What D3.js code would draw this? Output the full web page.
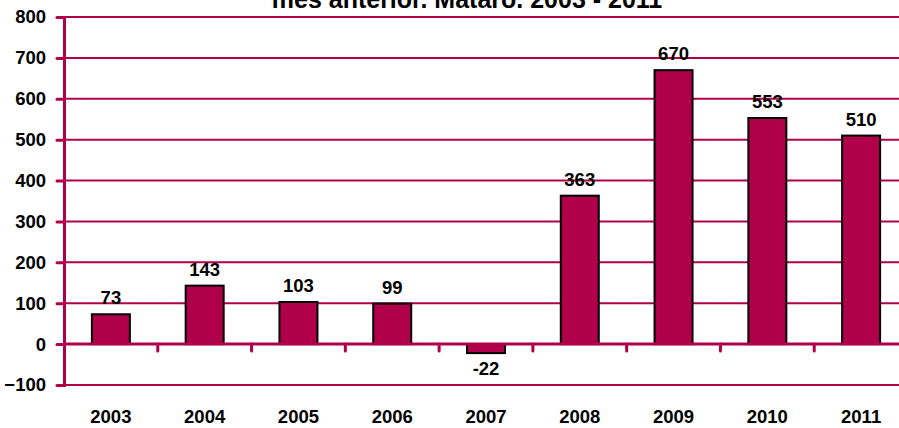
<!DOCTYPE html>
<html>
<head>
<meta charset="utf-8">
<script src="https://cdn.jsdelivr.net/npm/d3@7/dist/d3.min.js"></script>
<style>
  html, body { margin: 0; padding: 0; background: #fff; }
  svg { display: block; }
  text { font-family: Arial, "Liberation Sans", sans-serif; font-weight: bold; fill: #000; }
</style>
</head>
<body>
<svg id="chart" width="899" height="428"></svg>
<script>
const categories = ["2003", "2004", "2005", "2006", "2007", "2008", "2009", "2010", "2011"];
const values = [73, 143, 103, 99, -22, 363, 670, 553, 510];
const yTicks = [-100, 0, 100, 200, 300, 400, 500, 600, 700, 800];
const titleText = "mes anterior. Mataró. 2003 - 2011";

(function () {
const pLeft = 64, pRight = 908, pTop = 17, pBottom = 385;
const color = "#b0004a";
const fs = 18.5;

const svg = d3.select("#chart");

const x = d3.scaleBand().domain(categories).range([pLeft, pRight]).padding(0);
const y = d3.scaleLinear().domain([-100, 800]).range([pBottom, pTop]);
const barW = x.bandwidth() * 0.405;

// gridlines
svg.append("g").selectAll("line").data(yTicks).join("line")
  .attr("x1", pLeft).attr("x2", pRight)
  .attr("y1", d => y(d)).attr("y2", d => y(d))
  .attr("stroke", color).attr("stroke-width", 2);

// bars
svg.append("g").selectAll("rect").data(values).join("rect")
  .attr("x", (d, i) => x(categories[i]) + (x.bandwidth() - barW) / 2)
  .attr("y", d => y(Math.max(0, d)))
  .attr("width", barW)
  .attr("height", d => Math.abs(y(d) - y(0)))
  .attr("fill", color)
  .attr("stroke", "#000").attr("stroke-width", 2);

// zero line on top
svg.append("line")
  .attr("x1", pLeft).attr("x2", pRight)
  .attr("y1", y(0)).attr("y2", y(0))
  .attr("stroke", color).attr("stroke-width", 3);

// x ticks at band boundaries
svg.append("g").selectAll("line").data(categories.slice(1)).join("line")
  .attr("x1", d => x(d)).attr("x2", d => x(d))
  .attr("y1", y(0)).attr("y2", y(0) + 7)
  .attr("stroke", color).attr("stroke-width", 3).attr("stroke-linecap", "round");

// y axis
const yAxis = svg.append("g").attr("transform", `translate(${pLeft},0)`)
  .call(d3.axisLeft(y).tickValues(yTicks).tickSize(7).tickPadding(11).tickFormat(d3.format("d")));
yAxis.select(".domain").attr("stroke", color).attr("stroke-width", 3);
yAxis.selectAll(".tick line").attr("stroke", color).attr("stroke-width", 3).attr("stroke-linecap", "round");
yAxis.selectAll(".tick text").attr("font-size", fs).attr("font-family", "Arial, 'Liberation Sans', sans-serif").attr("font-weight", "bold").attr("fill", "#000");

// x labels
svg.append("g").selectAll("text").data(categories).join("text")
  .attr("x", d => x(d) + x.bandwidth() / 2)
  .attr("y", 423)
  .attr("text-anchor", "middle")
  .attr("font-size", fs)
  .text(d => d);

// value labels
svg.append("g").selectAll("text").data(values).join("text")
  .attr("x", (d, i) => x(categories[i]) + x.bandwidth() / 2)
  .attr("y", d => d >= 0 ? y(d) - 10 : y(d) + 22)
  .attr("text-anchor", "middle")
  .attr("font-size", fs)
  .text(d => d);

// title (partially cut off at top, as in the original)
svg.append("text")
  .attr("x", 467).attr("y", 8)
  .attr("text-anchor", "middle")
  .attr("font-size", 25)
  .text(titleText);
})();
</script>
</body>
</html>
